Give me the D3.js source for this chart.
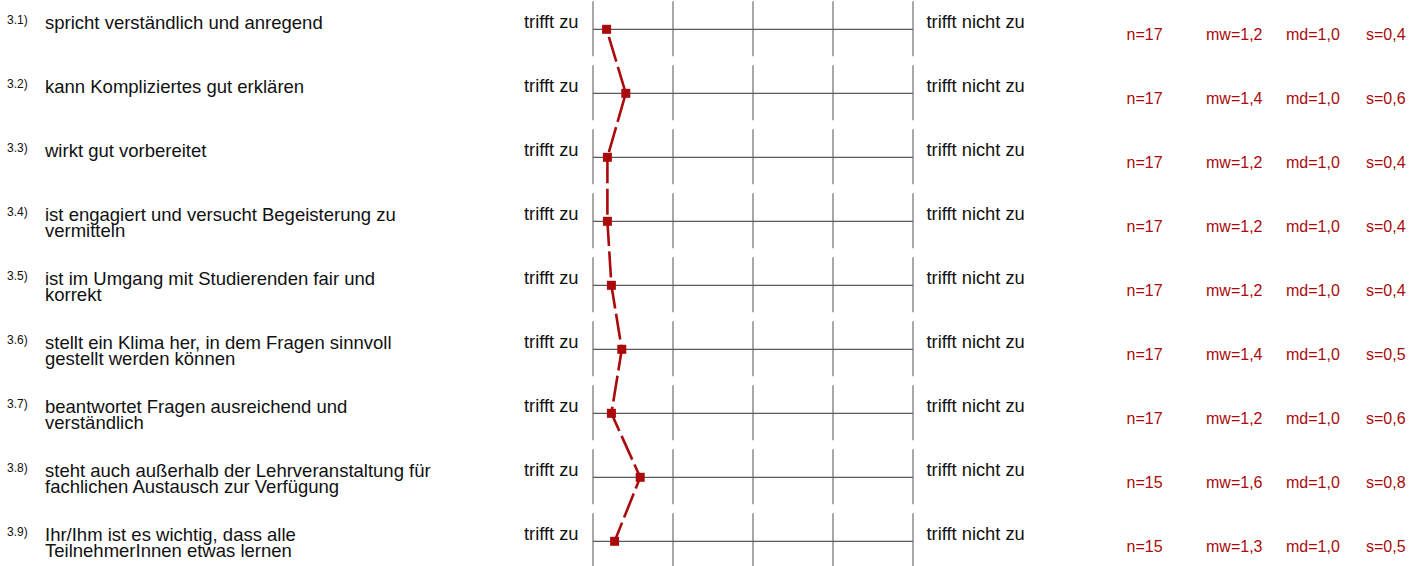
<!DOCTYPE html>
<html>
<head>
<meta charset="utf-8">
<script src="https://cdn.jsdelivr.net/npm/d3@7"></script>
<style>
  body { margin: 0; background: #fff; }
  text { font-family: "Liberation Sans", Arial, sans-serif; }
</style>
</head>
<body>
<div id="chart"></div>
<script>
// data
const itemNumbers = ['3.1)', '3.2)', '3.3)', '3.4)', '3.5)', '3.6)', '3.7)', '3.8)', '3.9)']
const itemLabels = [
  ['spricht verständlich und anregend'],
  ['kann Kompliziertes gut erklären'],
  ['wirkt gut vorbereitet'],
  ['ist engagiert und versucht Begeisterung zu', 'vermitteln'],
  ['ist im Umgang mit Studierenden fair und', 'korrekt'],
  ['stellt ein Klima her, in dem Fragen sinnvoll', 'gestellt werden können'],
  ['beantwortet Fragen ausreichend und', 'verständlich'],
  ['steht auch außerhalb der Lehrveranstaltung für', 'fachlichen Austausch zur Verfügung'],
  ['Ihr/Ihm ist es wichtig, dass alle', 'TeilnehmerInnen etwas lernen']
]
const means = [1.17, 1.41, 1.18, 1.18, 1.23, 1.36, 1.23, 1.59, 1.27]
const nText = ['n=17', 'n=17', 'n=17', 'n=17', 'n=17', 'n=17', 'n=17', 'n=15', 'n=15']
const mwText = ['mw=1,2', 'mw=1,4', 'mw=1,2', 'mw=1,2', 'mw=1,2', 'mw=1,4', 'mw=1,2', 'mw=1,6', 'mw=1,3']
const mdText = ['md=1,0', 'md=1,0', 'md=1,0', 'md=1,0', 'md=1,0', 'md=1,0', 'md=1,0', 'md=1,0', 'md=1,0']
const sText = ['s=0,4', 's=0,6', 's=0,4', 's=0,4', 's=0,4', 's=0,5', 's=0,6', 's=0,8', 's=0,5']
const scaleSteps = [1, 2, 3, 4, 5]
const leftPole = 'trifft zu'
const rightPole = 'trifft nicht zu'

const width = 1423
const height = 566
const red = '#aa0a0a'

const svg = d3.select('#chart').append('svg')
  .attr('width', width)
  .attr('height', height)

const rows = d3.range(itemLabels.length)

const x = d3.scaleLinear().domain([1, 5]).range([593, 913])
const y = d3.scaleLinear().domain([0, 8]).range([29.3, 541.3])

const row = svg.selectAll('g.row').data(rows)
  .enter().append('g')
  .attr('class', 'row')
  .attr('transform', i => `translate(0,${y(i)})`)

// scale grid
row.selectAll('line.v').data(scaleSteps)
  .enter().append('line')
  .attr('x1', d => x(d)).attr('x2', d => x(d))
  .attr('y1', -28).attr('y2', 27)
  .attr('stroke', '#707070')
  .attr('stroke-width', 1.2)

row.append('line')
  .attr('x1', x(1)).attr('x2', x(5))
  .attr('stroke', '#5a5a5a')
  .attr('stroke-width', 1.2)

// left: number + question
row.append('text')
  .attr('x', 7).attr('y', -5)
  .style('font-size', '12px')
  .attr('fill', '#111')
  .text(i => itemNumbers[i])

row.append('text')
  .attr('x', 45).attr('y', -0.5)
  .style('font-size', '18.5px')
  .attr('fill', '#111')
  .selectAll('tspan').data(i => itemLabels[i])
  .enter().append('tspan')
  .attr('x', 45)
  .attr('dy', (d, k) => k === 0 ? 0 : 16)
  .text(d => d)

row.append('text')
  .attr('x', 578.5).attr('y', -1)
  .attr('text-anchor', 'end')
  .style('font-size', '18.3px')
  .attr('fill', '#111')
  .text(leftPole)

row.append('text')
  .attr('x', 926.5).attr('y', -1)
  .style('font-size', '18.3px')
  .attr('fill', '#111')
  .text(rightPole)

// stats
const statCols = [nText, mwText, mdText, sText]
const statX = [1126.5, 1206, 1286, 1366]
statCols.forEach((col, c) => {
  row.append('text')
    .attr('x', statX[c]).attr('y', 11)
    .style('font-size', '16px')
    .attr('fill', red)
    .text(i => col[i])
})

// profile line
const line = d3.line()
  .x(i => x(means[i]))
  .y(i => y(i))

svg.append('path')
  .datum(rows)
  .attr('d', line)
  .attr('fill', 'none')
  .attr('stroke', red)
  .attr('stroke-width', 2.6)
  .attr('stroke-dasharray', '26,5.4')
  .attr('stroke-dashoffset', 23.6)

svg.selectAll('rect.marker').data(rows)
  .enter().append('rect')
  .attr('class', 'marker')
  .attr('x', i => x(means[i]) - 4.5)
  .attr('y', i => y(i) - 4.5)
  .attr('width', 9)
  .attr('height', 9)
  .attr('fill', red)
</script>
</body>
</html>
